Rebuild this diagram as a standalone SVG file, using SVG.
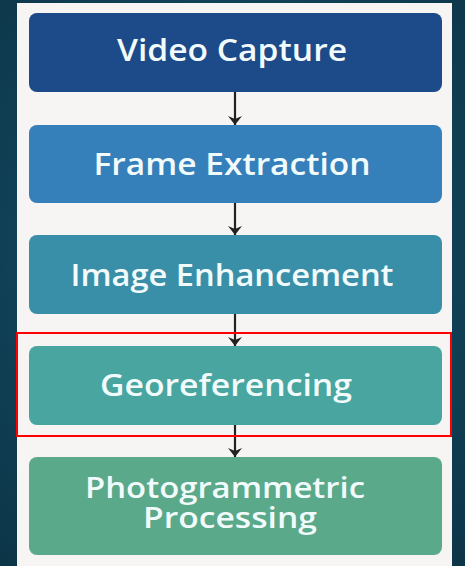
<svg xmlns="http://www.w3.org/2000/svg" width="465" height="566" viewBox="0 0 465 566">
<defs>
<radialGradient id="bg" cx="0.5" cy="0.45" r="0.75">
<stop offset="0" stop-color="#175670"/>
<stop offset="1" stop-color="#0c3447"/>
</radialGradient>
<marker id="ah" viewBox="0 0 9 14" refX="9" refY="7" markerWidth="9" markerHeight="14" markerUnits="userSpaceOnUse" orient="auto">
<path d="M0,0 L9,7 L0,14 L3,7 Z" fill="#222"/>
</marker>
<style>
.box{stroke:none}
.lbl{font-family:"Open Sans","Liberation Sans",sans-serif;font-weight:600;font-size:30px;fill:#f2fbfb;text-anchor:middle}
.sm{font-size:28px}
.conn{stroke:#222;stroke-width:2.2;fill:none}
</style>
</defs>
<rect width="465" height="566" fill="url(#bg)"/>
<rect x="17" y="3" width="435" height="566" fill="#f7f5f3"/>
<g id="n1"><rect class="box" x="29" y="13" width="413" height="79" rx="8" fill="#1d4a88"/><text class="lbl" x="232" y="61" textLength="230" lengthAdjust="spacingAndGlyphs">Video Capture</text></g>
<g id="n2"><rect class="box" x="29" y="125" width="413" height="78" rx="8" fill="#3580bb"/><text class="lbl" x="232" y="175" textLength="277" lengthAdjust="spacingAndGlyphs">Frame Extraction</text></g>
<g id="n3"><rect class="box" x="29" y="235" width="413" height="79" rx="8" fill="#3a8fa8"/><text class="lbl" x="232" y="286" textLength="323" lengthAdjust="spacingAndGlyphs">Image Enhancement</text></g>
<g id="n4"><rect class="box" x="29" y="346" width="413" height="79" rx="8" fill="#48a5a0"/><text class="lbl" x="226" y="396" textLength="252" lengthAdjust="spacingAndGlyphs">Georeferencing</text></g>
<g id="n5"><rect class="box" x="29" y="457" width="413" height="98" rx="8" fill="#5aa98a"/><text class="lbl sm" x="225" y="498" textLength="280" lengthAdjust="spacingAndGlyphs">Photogrammetric</text><text class="lbl sm" x="230" y="528" textLength="174" lengthAdjust="spacingAndGlyphs">Processing</text></g>
<g id="connectors">
<line class="conn" x1="235" y1="92" x2="235" y2="125" marker-end="url(#ah)"/>
<line class="conn" x1="235" y1="203" x2="235" y2="235" marker-end="url(#ah)"/>
<line class="conn" x1="235" y1="314" x2="235" y2="346" marker-end="url(#ah)"/>
<line class="conn" x1="235" y1="425" x2="235" y2="457" marker-end="url(#ah)"/>
</g>
<rect x="17" y="333" width="434" height="103" fill="none" stroke="#ff0000" stroke-width="2"/>
</svg>
